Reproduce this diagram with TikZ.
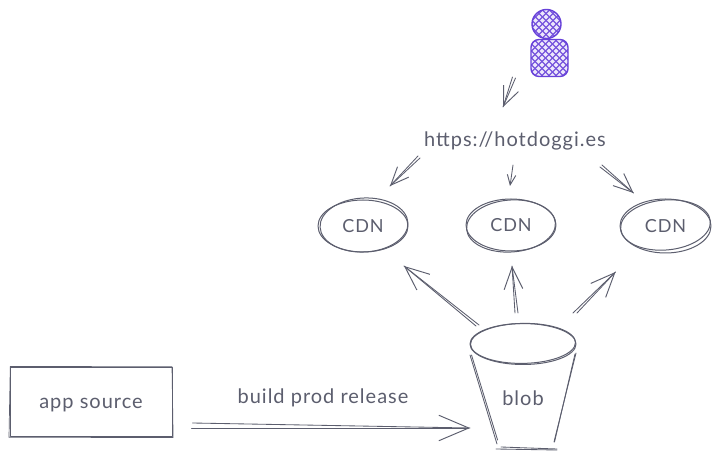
\documentclass[tikz,border=0pt]{standalone}
\usepackage{fontspec}
\setmainfont{Lato}
\newfontfamily\handfont[LetterSpace=5]{Lato}
\usetikzlibrary{arrows.meta,calc,shapes.geometric}
\definecolor{ink}{HTML}{5C5E6E}
\definecolor{violet}{HTML}{6741D9}
\definecolor{violetfill}{HTML}{EDE8FC}
\newcommand{\hatchlines}{%
  \foreach \k in {-120,-113,...,120}{
    \draw[violet!90,line width=1.2pt] (\k,-60) -- ++(120,120);
    \draw[violet!90,line width=1.2pt] (\k,60) -- ++(120,-120);
  }}
\tikzset{
  sk/.style={draw=ink,line width=1pt,line cap=round,line join=round},
  label/.style={text=ink,inner sep=0pt,font=\handfont\fontsize{20}{22}\selectfont},
  cdnnode/.style={ellipse,sk,minimum width=90,minimum height=52,inner sep=0pt,text=ink,font=\handfont\fontsize{18}{20}\selectfont},
  persondraw/.style={draw=violet,line width=1.4pt,fill=violetfill},
  conn/.style={sk,line width=0.85pt},
  head/.style={sk,line width=0.85pt,-{Straight Barb[length=#1,width=#1*0.85,line width=0.95pt]}},
  head/.default=16
}
% two near-parallel strokes
\newcommand{\skarrow}[5]{% from, to, shift x, shift y, head size
  \draw[conn] #1 -- #2;
  \draw[head=#5] ($#1+(#3,#4)$) -- #2;
}
\begin{document}
\begin{tikzpicture}[x=1pt,y=-1pt]
\useasboundingbox (0,0) rectangle (718,462);
\fill[white] (0,0) rectangle (718,462);

% person
\node[circle,persondraw,minimum size=29,inner sep=0pt,path picture={\begin{scope}[shift={(path picture bounding box.center)}]\hatchlines\end{scope}}] (personhead) at (546.5,24) {};
\node[rectangle,rounded corners=8,persondraw,minimum width=37,minimum height=37,inner sep=0pt,path picture={\begin{scope}[shift={(path picture bounding box.center)}]\hatchlines\end{scope}}] (personbody) at (549.5,58) {};

% texts and nodes
\node[label] (url) at (515,141) {https://hotdoggi.es};
\node[cdnnode] (cdna) at (363,226) {CDN};
\node[cdnnode] (cdnb) at (511,225) {CDN};
\node[cdnnode,minimum width=91,minimum height=54] (cdnc) at (665.5,226) {CDN};
\draw[sk] ([shift={(1,-1)}]cdna.center) ellipse [x radius=44,y radius=27,rotate=3];
\draw[sk] ([shift={(0,1)}]cdnb.center) ellipse [x radius=44.5,y radius=26,rotate=4];
\draw[sk] ([shift={(0,-1)}]cdnc.center) ellipse [x radius=45,y radius=25,rotate=5];

\node[rectangle,sk,minimum width=162,minimum height=68,inner sep=0pt,label,draw=ink] (source) at (91,402) {\smash{\raisebox{-7pt}{app source}}};
\draw[sk,line width=0.7pt] ([shift={(0.8,-1)}]source.north west) -- ([shift={(-0.5,-0.8)}]source.north east) -- ([shift={(0.6,1)}]source.south east) -- ([shift={(-0.5,0.8)}]source.south west) -- cycle;

\node[label] (release) at (323,398) {build prod release};

% bucket
\node[ellipse,sk,minimum width=106,minimum height=41,inner sep=0pt] (blobtop) at (523,344) {};
\draw[sk] ([shift={(0,-0.6)}]blobtop.center) ellipse [x radius=52.5,y radius=20,rotate=1];
\node[label] (blob) at (523,398) {blob};
\coordinate (bl) at (497,444);
\coordinate (br) at (554,442);
\draw[conn] ([shift={(-53,11)}]blobtop.center) -- (bl);
\draw[conn] ([shift={(-51.5,11)}]blobtop.center) -- ([shift={(0.6,-4)}]bl);
\draw[conn] ([shift={(53,9)}]blobtop.center) -- (br);
\draw[conn] ([shift={(52,10)}]blobtop.center) -- ([shift={(0.5,0)}]br);
\draw[conn] ([shift={(-1,5)}]bl) -- ([shift={(3,8)}]br);
\draw[conn] ([shift={(4,3)}]bl) -- ([shift={(3,7)}]br);

% connectors
\skarrow{([shift={(-37,19)}]personbody.center)}{([shift={(-46.5,49)}]personbody.center)}{3}{1}{19}
\skarrow{([shift={(-95,17)}]url.center)}{([shift={(27,-40)}]cdna.center)}{-2}{-2}{18}
\draw[head=10] ([shift={(-2,24)}]url.center) -- ([shift={(-1,-39)}]cdnb.center);
\skarrow{([shift={(85,26)}]url.center)}{([shift={(-32,-33)}]cdnc.center)}{2}{-2}{19}
\skarrow{([shift={(-44,-19)}]blobtop.center)}{([shift={(41,40)}]cdna.center)}{-3}{1}{24}
\skarrow{([shift={(-5,-31)}]blobtop.center)}{([shift={(1,41)}]cdnb.center)}{-3}{0}{22}
\skarrow{([shift={(50,-31)}]blobtop.center)}{([shift={(-50,46)}]cdnc.center)}{4}{0}{24}
\skarrow{([shift={(20,21)}]source.east)}{([shift={(-53,84)}]blobtop.center)}{-1}{5}{30}
\end{tikzpicture}
\end{document}
